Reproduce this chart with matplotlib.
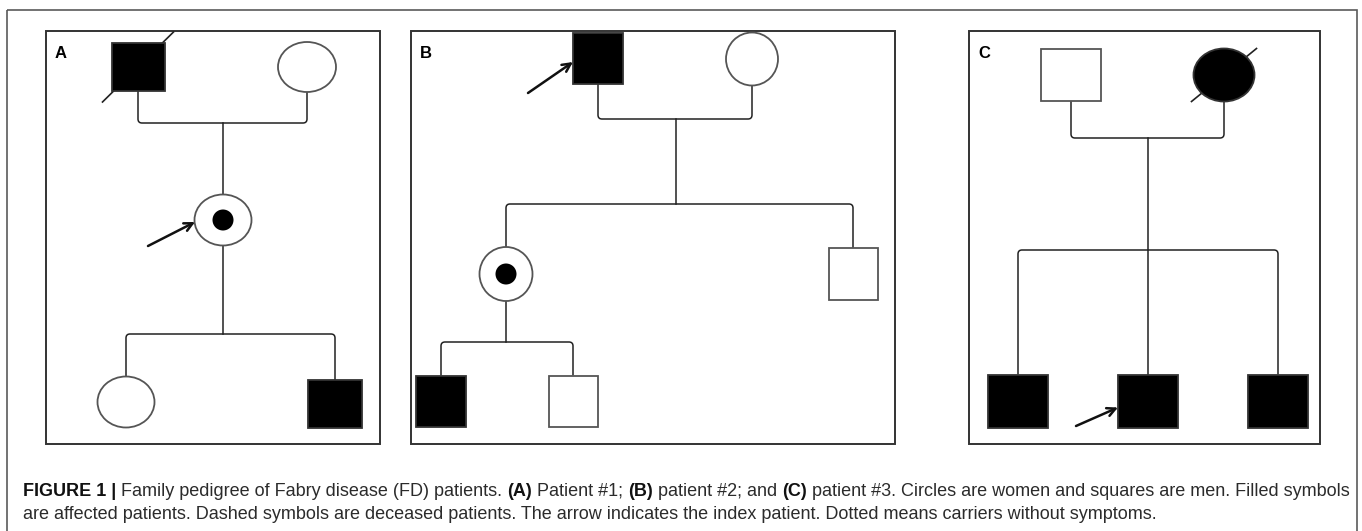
import numpy as np
import matplotlib
matplotlib.use("Agg")
import matplotlib.pyplot as plt
from matplotlib.patches import Rectangle, Ellipse, PathPatch
from matplotlib.path import Path

plt.rcParams['font.family'] = ['Liberation Sans', 'DejaVu Sans']

# panels: label, frame (x0, y0, x1, y1) in pixels
panel_labels = ["A", "B", "C"]
panel_frames = [(46, 31, 380, 444), (411, 31, 895, 444), (969, 31, 1320, 444)]

# individuals: shape, centre x, centre y, affected, deceased, carrier
ind_shape = ["sq", "ci", "ci", "ci", "sq",
             "sq", "ci", "ci", "sq", "sq", "sq",
             "sq", "ci", "sq", "sq", "sq"]
ind_x = [138, 307, 223, 126, 335,
         598, 752, 506, 853, 441, 573,
         1071, 1224, 1018, 1148, 1278]
ind_y = [67, 67, 220, 402, 404,
         58, 59, 274, 274, 401, 401,
         75, 75, 401, 401, 401]
ind_affected = [1, 0, 0, 0, 1,
                1, 0, 0, 0, 1, 0,
                0, 1, 1, 1, 1]
ind_deceased = [1, 0, 0, 0, 0,
                0, 0, 0, 0, 0, 0,
                0, 1, 0, 0, 0]
ind_carrier = [0, 0, 1, 0, 0,
               0, 0, 1, 0, 0, 0,
               0, 0, 0, 0, 0]
ind_w = [53, 58, 57, 57, 54,
         50, 52, 53, 49, 50, 49,
         60, 61, 60, 60, 60]
ind_h = [48, 50, 51, 51, 48,
         51, 53, 54, 52, 51, 51,
         52, 53, 53, 53, 53]

# matings: father idx, mother idx, line y
mate_father = [0, 5, 11]
mate_mother = [1, 6, 12]
mate_y = [123, 119, 138]
sib_y = [334, 204, 250]
descent_x = [223, 676, 1148]
sub_y = 342

# probands: individual idx, arrow tail
proband_idx = [2, 5, 14]
arrow_from = [(148, 246), (528, 93), (1076, 426)]

caption_l1 = [("FIGURE 1 | ", True), ("Family pedigree of Fabry disease (FD) patients. ", False),
              ("(A)", True), (" Patient #1; ", False), ("(B)", True), (" patient #2; and ", False),
              ("(C)", True), (" patient #3. Circles are women and squares are men. Filled symbols", False)]
caption_l2 = [("are affected patients. Dashed symbols are deceased patients. The arrow indicates the "
               "index patient. Dotted means carriers without symptoms.", False)]

fig = plt.figure(figsize=(13.62, 5.31), dpi=100)
ax = fig.add_axes([0, 0, 1, 1])
ax.set_xlim(0, 1362)
ax.set_ylim(531, 0)
ax.axis('off')

LW = 1.1
ax.add_patch(Rectangle((7, 10), 1350, 540, fill=False, ec="#5a5a5a", lw=1.2))

for lab, (x0, y0, x1, y1) in zip(panel_labels, panel_frames):
    ax.add_patch(Rectangle((x0, y0), x1 - x0, y1 - y0, fill=False, ec="#333333", lw=1.4))
    ax.text(x0 + 9, y0 + 22, lab, fontsize=12, fontweight="bold", va="center", ha="left")


def top(i):
    return ind_y[i] - ind_h[i] / 2


def bottom(i):
    return ind_y[i] + ind_h[i] / 2


def bracket(xa, xb, y, ya, yb, r=4):
    # line from (xa, ya) to y, across to xb, then to (xb, yb), rounded corners
    sa = np.sign(y - ya)
    sb = np.sign(yb - y)
    verts = [(xa, ya), (xa, y - sa * r), (xa, y), (xa + r, y),
             (xb - r, y), (xb, y), (xb, y + sb * r), (xb, yb)]
    codes = [Path.MOVETO, Path.LINETO, Path.CURVE3, Path.CURVE3,
             Path.LINETO, Path.CURVE3, Path.CURVE3, Path.LINETO]
    ax.add_patch(PathPatch(Path(verts, codes), fill=False, ec="#222222", lw=LW, capstyle="butt"))


# mating lines
for k in range(3):
    f, m = mate_father[k], mate_mother[k]
    bracket(ind_x[f], ind_x[m], mate_y[k], bottom(f), bottom(m))

# panel A
bracket(ind_x[3], ind_x[4], sib_y[0], top(3), top(4))
ax.plot([descent_x[0]] * 2, [mate_y[0], top(2)], color="#222222", lw=LW)
ax.plot([ind_x[2]] * 2, [bottom(2), sib_y[0]], color="#222222", lw=LW)

# panel B
bracket(ind_x[7], ind_x[8], sib_y[1], top(7), top(8))
ax.plot([descent_x[1]] * 2, [mate_y[1], sib_y[1]], color="#222222", lw=LW)
bracket(ind_x[9], ind_x[10], sub_y, top(9), top(10))
ax.plot([ind_x[7]] * 2, [bottom(7), sub_y], color="#222222", lw=LW)

# panel C
bracket(ind_x[13], ind_x[15], sib_y[2], top(13), top(15))
ax.plot([descent_x[2]] * 2, [mate_y[2], top(14)], color="#222222", lw=LW)

# symbols
for i in range(len(ind_x)):
    fc = "black" if ind_affected[i] else "white"
    ec = "#333333" if ind_affected[i] else "#555555"
    if ind_shape[i] == "sq":
        ax.add_patch(Rectangle((ind_x[i] - ind_w[i] / 2, top(i)), ind_w[i], ind_h[i],
                               fc=fc, ec=ec, lw=1.3, zorder=3))
    else:
        ax.add_patch(Ellipse((ind_x[i], ind_y[i]), ind_w[i], ind_h[i],
                             fc=fc, ec=ec, lw=1.3, zorder=3))
    if ind_carrier[i]:
        ax.add_patch(Ellipse((ind_x[i], ind_y[i]), 21, 21, fc="black", ec="none", zorder=4))
    if ind_deceased[i]:
        if ind_shape[i] == "sq":
            dx, dy = ind_w[i] / 2 + 9, ind_h[i] / 2 + 11
        else:
            dx, dy = ind_w[i] / 2 + 2, ind_h[i] / 2
        ax.plot([ind_x[i] - dx, ind_x[i] + dx], [ind_y[i] + dy, ind_y[i] - dy],
                color="#222222", lw=1.2, zorder=2)

# proband arrows
for i, (tx, ty) in zip(proband_idx, arrow_from):
    if ind_shape[i] == "ci":
        hx = ind_x[i] - ind_w[i] / 2 * 0.98
        hy = ind_y[i] + 2
    else:
        hx = ind_x[i] - ind_w[i] / 2
        hy = ind_y[i] + 4 if i == 5 else bottom(i) - 20
    ax.annotate("", xy=(hx, hy), xytext=(tx, ty),
                arrowprops=dict(arrowstyle="->", lw=1.8, color="#111111",
                                mutation_scale=15, shrinkA=0, shrinkB=0), zorder=6)

# caption, fitted to width
fig.canvas.draw()
renderer = fig.canvas.get_renderer()


def run_width(runs, fs):
    w = 0
    for s, b in runs:
        t = ax.text(0, 0, s, fontsize=fs, fontweight="bold" if b else "normal")
        w += t.get_window_extent(renderer).width
        t.remove()
    return w


fs = 11.0
w1 = run_width(caption_l1, fs)
fs = fs * (1347 - 23) / w1


def draw_runs(runs, x, y):
    for s, b in runs:
        t = ax.text(x, y, s, fontsize=fs, fontweight="bold" if b else "normal",
                    color="#2b2b2b" if not b else "#111111", va="baseline", ha="left")
        x += t.get_window_extent(renderer).width


draw_runs(caption_l1, 23, 496)
draw_runs(caption_l2, 23, 519)

fig.savefig("out.png", dpi=100)
